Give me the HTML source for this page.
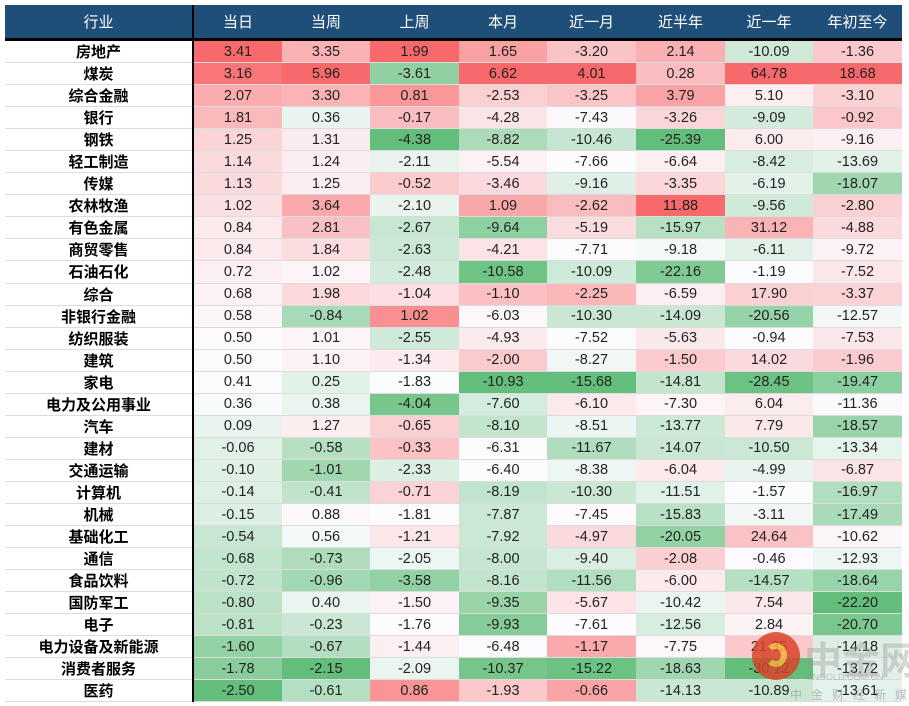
<!DOCTYPE html>
<html><head><meta charset="utf-8">
<style>
body{margin:0;background:#fff;width:909px;height:706px;overflow:hidden;font-family:"Liberation Sans","Noto Sans CJK SC",sans-serif;}
#wrap{position:absolute;left:5px;top:5px;}
table{border-collapse:collapse;table-layout:fixed;}
th{background:#1f4e79;color:#fff;font-weight:normal;font-size:15px;height:33px;padding:0;border-bottom:3px solid #000;}
td{height:21.05px;padding:0;font-size:14.5px;text-align:center;border-bottom:1px solid #dcdcdc;color:#222;}
td.lab{font-weight:bold;font-size:15px;color:#000;background:#fff;}
.c0{border-right:2px solid #000;}
#wm{position:absolute;left:752px;top:632px;width:300px;pointer-events:none;white-space:nowrap;}
#wm div{white-space:nowrap;}
</style></head><body>
<div id="wrap">
<table id="t">
<colgroup><col style="width:188px"><col style="width:89px"><col style="width:88px"><col style="width:89px"><col style="width:88px"><col style="width:89px"><col style="width:89px"><col style="width:88px"><col style="width:89px"></colgroup>
<thead><tr id="hr"></tr></thead>
<tbody id="tb"></tbody>
</table>
</div>
<div id="wm" style="opacity:0.85">
<div style="position:absolute;left:0;top:0;width:48px;height:48px;border-radius:50%;background:#d9442a;"></div>
<div style="position:absolute;left:13px;top:11px;width:22px;height:24px;border-radius:50%;border:6px solid #f4b43c;border-left-color:transparent;box-sizing:border-box"></div>
<div style="position:absolute;left:52px;top:-2px;font-size:38px;font-weight:bold;color:rgba(150,150,150,0.45)">中金网</div>
<div style="position:absolute;left:54px;top:40px;font-size:9px;color:rgba(150,150,150,0.6)">CNGOLD.COM.CN</div>
<div style="position:absolute;left:38px;top:54px;font-size:12px;letter-spacing:9px;color:rgba(130,130,130,0.6)">中金财经新媒体</div>
</div>
<script>
const headers=["行业","当日","当周","上周","本月","近一月","近半年","近一年","年初至今"];
const industries=["房地产","煤炭","综合金融","银行","钢铁","轻工制造","传媒","农林牧渔","有色金属","商贸零售","石油石化","综合","非银行金融","纺织服装","建筑","家电","电力及公用事业","汽车","建材","交通运输","计算机","机械","基础化工","通信","食品饮料","国防军工","电子","电力设备及新能源","消费者服务","医药"];
const colDay=[3.41,3.16,2.07,1.81,1.25,1.14,1.13,1.02,0.84,0.84,0.72,0.68,0.58,0.50,0.50,0.41,0.36,0.09,-0.06,-0.10,-0.14,-0.15,-0.54,-0.68,-0.72,-0.80,-0.81,-1.60,-1.78,-2.50];
const colWeek=[3.35,5.96,3.30,0.36,1.31,1.24,1.25,3.64,2.81,1.84,1.02,1.98,-0.84,1.01,1.10,0.25,0.38,1.27,-0.58,-1.01,-0.41,0.88,0.56,-0.73,-0.96,0.40,-0.23,-0.67,-2.15,-0.61];
const colLastWeek=[1.99,-3.61,0.81,-0.17,-4.38,-2.11,-0.52,-2.10,-2.67,-2.63,-2.48,-1.04,1.02,-2.55,-1.34,-1.83,-4.04,-0.65,-0.33,-2.33,-0.71,-1.81,-1.21,-2.05,-3.58,-1.50,-1.76,-1.44,-2.09,0.86];
const colMonth=[1.65,6.62,-2.53,-4.28,-8.82,-5.54,-3.46,1.09,-9.64,-4.21,-10.58,-1.10,-6.03,-4.93,-2.00,-10.93,-7.60,-8.10,-6.31,-6.40,-8.19,-7.87,-7.92,-8.00,-8.16,-9.35,-9.93,-6.48,-10.37,-1.93];
const col1M=[-3.20,4.01,-3.25,-7.43,-10.46,-7.66,-9.16,-2.62,-5.19,-7.71,-10.09,-2.25,-10.30,-7.52,-8.27,-15.68,-6.10,-8.51,-11.67,-8.38,-10.30,-7.45,-4.97,-9.40,-11.56,-5.67,-7.61,-1.17,-15.22,-0.66];
const col6M=[2.14,0.28,3.79,-3.26,-25.39,-6.64,-3.35,11.88,-15.97,-9.18,-22.16,-6.59,-14.09,-5.63,-1.50,-14.81,-7.30,-13.77,-14.07,-6.04,-11.51,-15.83,-20.05,-2.08,-6.00,-10.42,-12.56,-7.75,-18.63,-14.13];
const col1Y=[-10.09,64.78,5.10,-9.09,6.00,-8.42,-6.19,-9.56,31.12,-6.11,-1.19,17.90,-20.56,-0.94,14.02,-28.45,6.04,7.79,-10.50,-4.99,-1.57,-3.11,24.64,-0.46,-14.57,7.54,2.84,21.35,-30.12,-10.89];
const colYTD=[-1.36,18.68,-3.10,-0.92,-9.16,-13.69,-18.07,-2.80,-4.88,-9.72,-7.52,-3.37,-12.57,-7.53,-1.96,-19.47,-11.36,-18.57,-13.34,-6.87,-16.97,-17.49,-10.62,-12.93,-18.64,-22.20,-20.70,-14.18,-13.72,-13.61];
const cols=[colDay,colWeek,colLastWeek,colMonth,col1M,col6M,col1Y,colYTD];
const colNames=["day","week","last-week","month","1m","6m","1y","ytd"];

function colorFor(v,arr){
  const s=[...arr].sort((a,b)=>a-b);
  const n=s.length, med=(s[(n-1)>>1]+s[n>>1])/2, mn=s[0], mx=s[n-1];
  const W=[252,252,255], R=[248,105,107], G=[99,190,123];
  let t,c;
  if(v>=med){t=mx===med?0:(v-med)/(mx-med);c=R;}else{t=mn===med?0:(med-v)/(med-mn);c=G;}
  const m=W.map((w,i)=>Math.round(w+(c[i]-w)*t));
  return `rgb(${m[0]},${m[1]},${m[2]})`;
}
const hr=document.getElementById('hr');
headers.forEach((h,i)=>{
  const th=document.createElement('th');
  th.textContent=h;
  if(i===0)th.className='c0';
  
  
  hr.appendChild(th);
});
const tb=document.getElementById('tb');
industries.forEach((name,r)=>{
  const tr=document.createElement('tr');
  
  
  const td=document.createElement('td');
  td.className='lab c0';td.textContent=name;
  
  
  tr.appendChild(td);
  cols.forEach((arr,c)=>{
    const cell=document.createElement('td');
    const v=arr[r];
    cell.textContent=v.toFixed(2);
    cell.style.background=colorFor(v,arr);
    
    
    tr.appendChild(cell);
  });
  tb.appendChild(tr);
});
</script>
</body></html>
